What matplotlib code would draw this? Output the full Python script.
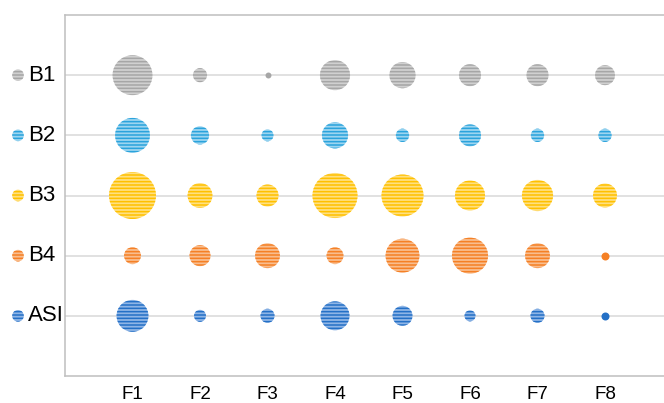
import matplotlib
matplotlib.use("Agg")
import matplotlib.pyplot as plt
import numpy as np

plt.rcParams['font.family'] = ['Liberation Sans', 'DejaVu Sans']
plt.rcParams['hatch.linewidth'] = 1.1

# columns / rows
factors = ["F1", "F2", "F3", "F4", "F5", "F6", "F7", "F8"]
series = ["B1", "B2", "B3", "B4", "ASI"]

# bubble values (B3/F1 = 100)
b1 = [72, 9, 1.6, 41, 31, 22, 22, 18]
b2 = [55, 15, 6.5, 31, 8, 22, 8, 8]
b3 = [100, 28, 22, 92, 80, 41, 44, 26]
b4 = [13, 20, 28, 13, 52, 59, 28, 2.9]
asi = [46, 6.5, 9, 38, 18, 5.5, 9, 2.9]
values = [b1, b2, b3, b4, asi]

# (stripe colour, background colour)
colors = [("#a6a6a6", "#d0d0d0"),
          ("#2aa3dc", "#9dd5f0"),
          ("#ffc000", "#ffe07f"),
          ("#f58025", "#f9bd8e"),
          ("#2470c6", "#8fb5e6")]

fig = plt.figure(figsize=(6.64, 4.03), dpi=100)
ax = fig.add_axes([65 / 664, 27 / 403, 607.5 / 664, 361 / 403])

scale = 11.45
x = np.arange(1, len(factors) + 1)
for i, (name, vals, (dark, light)) in enumerate(zip(series, values, colors)):
    y = len(series) - i
    vals = np.array(vals, dtype=float)
    big = vals >= 4
    ax.scatter(x[big], np.full(big.sum(), y), s=vals[big] * scale,
               facecolors=light, edgecolors=dark, linewidths=0,
               hatch="-----", zorder=3)
    if (~big).any():
        ax.scatter(x[~big], np.full((~big).sum(), y), s=vals[~big] * scale,
                   color=dark, linewidths=0, zorder=3)
    # legend-like label on the left
    ax.scatter([-47 / 607.5], [y], s=70, facecolors=light, edgecolors=dark,
               linewidths=0, hatch="-----", transform=ax.get_yaxis_transform(),
               clip_on=False, zorder=3)
    ax.text(-37 / 607.5, y, name, transform=ax.get_yaxis_transform(),
            ha="left", va="center", fontsize=16, color="#000000")

ax.set_xlim(0, len(factors) + 1)
ax.set_ylim(0, len(series) + 1)
ax.set_xticks(x)
ax.set_xticklabels(factors, fontsize=13.5)
ax.set_yticks(np.arange(1, len(series) + 1))
ax.set_yticklabels([])
ax.tick_params(length=0, pad=7)
ax.tick_params(axis="x", colors="#000000")
ax.grid(axis="y", color="#d9d9d9", linewidth=1.1)
ax.set_axisbelow(True)
for side in ["left", "top", "bottom"]:
    ax.spines[side].set_color("#bfbfbf")
    ax.spines[side].set_linewidth(1.1)
ax.spines["right"].set_visible(False)

fig.savefig("out.png", dpi=100)
